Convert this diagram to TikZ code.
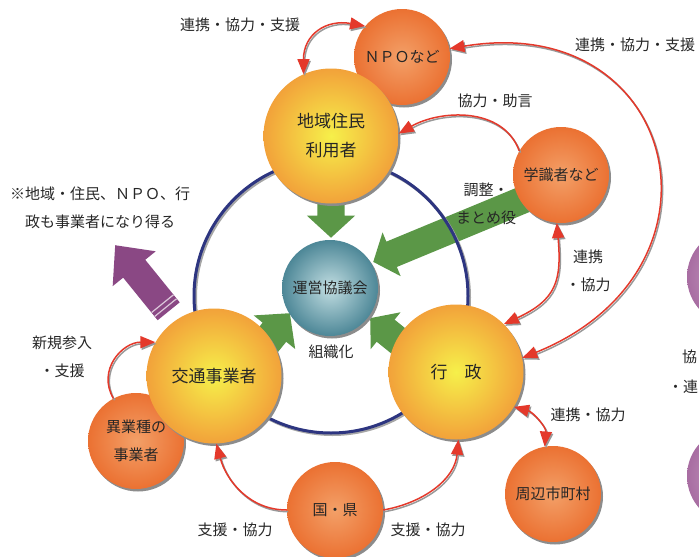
\documentclass[tikz,border=0pt]{standalone}
\usepackage{fontspec}
\setmainfont{Noto Sans CJK JP}
\usepackage{tikz}
\usetikzlibrary{arrows.meta,shapes.arrows,shadows}
\definecolor{suninner}{HTML}{F6F04A}
\definecolor{sunouter}{HTML}{F2A23A}
\definecolor{orangeinner}{HTML}{F3A068}
\definecolor{orangeouter}{HTML}{EB7132}
\definecolor{tealinner}{HTML}{C2DEE2}
\definecolor{tealouter}{HTML}{4D8797}
\definecolor{plum}{HTML}{8A4884}
\definecolor{plumball}{HTML}{A86DA2}
\definecolor{leafgreen}{HTML}{5B9747}
\definecolor{ringblue}{HTML}{2D3580}
\definecolor{linkred}{HTML}{E4392B}
\tikzset{every node/.style={font=\fontsize{15}{28}\selectfont, text=black!85},
    ball/.style={circle,inner sep=0pt,align=center,
        drop shadow={shadow xshift=2pt,shadow yshift=-2.5pt,fill=black!45,opacity=1}},
    sun/.style={ball,minimum size=135pt,shading=radial,
        inner color=suninner,outer color=sunouter,font=\fontsize{17}{29}\selectfont},
    tangerine/.style={ball,minimum size=96pt,shading=radial,
        inner color=orangeinner,outer color=orangeouter},
    council/.style={ball,minimum size=96pt,shading=radial,
        inner color=tealinner,outer color=tealouter},
    grape/.style={ball,minimum size=96pt,shading=radial,
        inner color=plumball!60,outer color=plumball},
    fat arrow/.style={single arrow,draw=none,fill=leafgreen,inner xsep=0pt,
        inner ysep=14pt,single arrow head extend=10pt,
        single arrow tip angle=95,anchor=tip},
    link/.style={draw=linkred,line width=1.5pt,
        preaction={draw=black!40,line width=1.5pt,
            transform canvas={shift={(1.3pt,-1.7pt)}}}},
    ring/.style={draw=ringblue,line width=3pt,
        preaction={draw=black!35,line width=3pt,
            transform canvas={shift={(1.5pt,-1.5pt)}}}},
    label text/.style={align=center}}

\begin{document}
\begin{tikzpicture}[x=1pt,y=1pt,>={Triangle[length=15pt,width=12pt]}]
    \useasboundingbox (0,0) rectangle (699,-557);
    \clip (0,0) rectangle (699,-557);
    % green arrows into the council
    \node[fat arrow,minimum height=60pt,inner ysep=13.5pt,
        single arrow head extend=10.5pt,rotate=-90] (arrjumin) at (331,-238) {};
    \node[fat arrow,minimum height=170pt,inner ysep=13.5pt,
        single arrow head extend=10pt,single arrow tip angle=100,rotate=202.5] (arrgakushiki) at (373,-262) {};
    \node[fat arrow,minimum height=65pt,inner ysep=15pt,
        single arrow head extend=11.5pt,rotate=51] (arrkotsu) at (290,-313) {};
    \node[fat arrow,minimum height=65pt,inner ysep=14pt,
        single arrow head extend=9.5pt,single arrow tip angle=100,rotate=141] (arrgyosei) at (370,-318) {};
    \node[fat arrow,fill=plum,minimum height=85pt,inner ysep=14pt,
        single arrow head extend=13.5pt,single arrow tip angle=85,rotate=129] (arrnote) at (115,-245) {};
    \begin{scope}[shift={(arrnote.tail)},rotate=129]
        \draw[white!70!plum,line width=1.2pt] (5,-14) -- (5,14) (10,-14) -- (10,14);
    \end{scope}
    \draw[ring] (331,-296) circle[radius=137pt];

    \node[tangerine] (npo) at (402,-57) {ＮＰＯなど};
    \node[sun] (jumin) at (331,-136) {地域住民\\利用者};
    \node[tangerine] (gakushiki) at (561,-175) {学識者など};
    \node[council] (kyogikai) at (330,-288) {運営協議会};
    \node[tangerine] (igyoshu) at (136,-441) {異業種の\\事業者};
    \node[sun] (kotsu) at (214,-376) {交通事業者};
    \node[sun] (gyosei) at (456,-372) {行　政};
    \node[tangerine] (kuniken) at (335,-510) {国・県};
    \node[tangerine] (shuhen) at (553,-494) {周辺市町村};
    \node[grape] (nextone) at (735,-277) {};
    \node[grape] (nexttwo) at (735,-476) {};

    \draw[link,<->] (npo.140) to[out=170,in=90,looseness=1.3] (jumin.114);
    \draw[link,<->] (npo.10) .. controls (680,-10) and (740,-270) .. (gyosei.12);
    \draw[link,->] (gakushiki.150) to[out=110,in=30] (jumin.2);
    \draw[link,<->] (gakushiki.-95) to[out=-85,in=25,looseness=1.3] (gyosei.45);
    \draw[link,<->] (gyosei.-31) to[out=-15,in=85] (shuhen.100);
    \draw[link,->] (kuniken.0) to[out=10,in=-95] (gyosei.-88);
    \draw[link,->] (kuniken.180) to[out=180,in=-75] (kotsu.-88);
    \draw[link,->] (igyoshu.118) to[out=120,in=180,looseness=1.2] (kotsu.150);

    \node (lblnpo) at (240,-25) {連携・協力・支援};
    \node[anchor=west,inner sep=0pt] (lblgyosei) at (575,-45) {連携・協力・支援};
    \node (lbljogen) at (495,-101) {協力・助言};
    \node[label text] (lblchosei) at (486,-204) {調整・\\まとめ役};
    \node[label text] (lblrenkei) at (588,-271) {連携\\・協力};
    \node (lblshuhen) at (588,-415) {連携・協力};
    \node (lblkuni1) at (235,-530) {支援・協力};
    \node (lblkuni2) at (428,-530) {支援・協力};
    \node (lblsoshiki) at (331,-352) {組織化};
    \node[label text] (lblshinki) at (62,-357) {新規参入\\・支援};
    \node[label text] (lblnote) at (100,-208) {※地域・住民、ＮＰＯ、行\\政も事業者になり得る};
    \node[anchor=west,inner sep=0pt] (lblnext1) at (682,-357) {協};
    \node[anchor=west,inner sep=0pt] (lblnext2) at (668,-387) {・連};
\end{tikzpicture}
\end{document}
